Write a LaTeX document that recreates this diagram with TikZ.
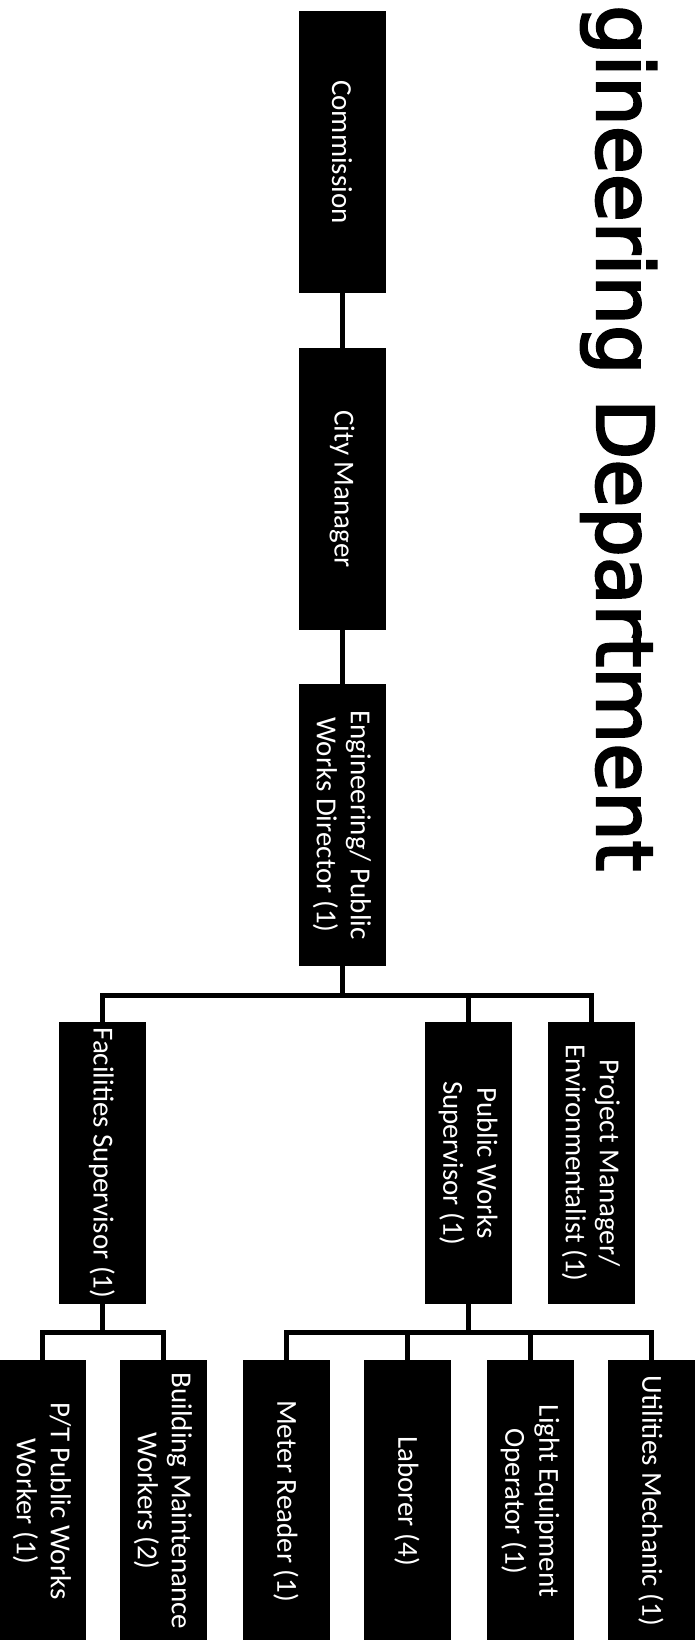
\documentclass[tikz,border=0pt]{standalone}
\usepackage{fontspec}
\setmainfont{Carlito}
\newfontfamily\titlefont{DejaVu Sans}
\usepackage{tikz}
\tikzstyle{post} = [rectangle, fill=black, text=white, rotate=-90, minimum width=282pt, minimum height=87pt, inner sep=0pt, align=center, font=\fontsize{29}{34}\selectfont]
\tikzstyle{link} = [line width=5pt]

\begin{document}
\begin{tikzpicture}[x=1pt, y=1pt]
			\useasboundingbox (0, 0) rectangle (695, -1640);
			\node[anchor=base west, rotate=-90, inner sep=0pt, font=\titlefont\fontsize{78}{90}\selectfont] (title) at (597, -5) {\special{pdf:literal direct 2 Tr 2.5 w}gineering Department\special{pdf:literal direct 0 Tr}};
			\node[post] (comm) at (342, -152) {Commission};
			\node[post] (city) at (342, -489) {City Manager};
			\node[post] (dir) at (342, -825) {Engineering/ Public\\Works Director (1)};
			\node[post] (fac) at (102, -1163) {Facilities Supervisor (1)};
			\node[post] (pws) at (468, -1163) {Public Works\\Supervisor (1)};
			\node[post] (pm) at (591, -1163) {Project Manager/\\Environmentalist (1)};
			\node[post] (pt) at (42, -1501) {P/T Public Works\\Worker (1)};
			\node[post] (bm) at (163, -1501) {Building Maintenance\\Workers (2)};
			\node[post] (mr) at (286, -1501) {Meter Reader (1)};
			\node[post] (lab) at (407, -1501) {Laborer (4)};
			\node[post] (leo) at (530, -1501) {Light Equipment\\Operator (1)};
			\node[post] (um) at (651, -1501) {Utilities Mechanic (1)};
			\draw[link] (comm.east) -- (city.west);
			\draw[link] (city.east) -- (dir.west);
			\draw[link] (dir.east) -- ++(0, -29) -| (fac.west);
			\draw[link] (dir.east) -- ++(0, -29) -| (pws.west);
			\draw[link] (dir.east) -- ++(0, -29) -| (pm.west);
			\draw[link] (fac.east) -- ++(0, -28) -| (pt.west);
			\draw[link] (fac.east) -- ++(0, -28) -| (bm.west);
			\draw[link] (pws.east) -- ++(0, -28) -| (mr.west);
			\draw[link] (pws.east) -- ++(0, -28) -| (lab.west);
			\draw[link] (pws.east) -- ++(0, -28) -| (leo.west);
			\draw[link] (pws.east) -- ++(0, -28) -| (um.west);
		\end{tikzpicture}
\end{document}
